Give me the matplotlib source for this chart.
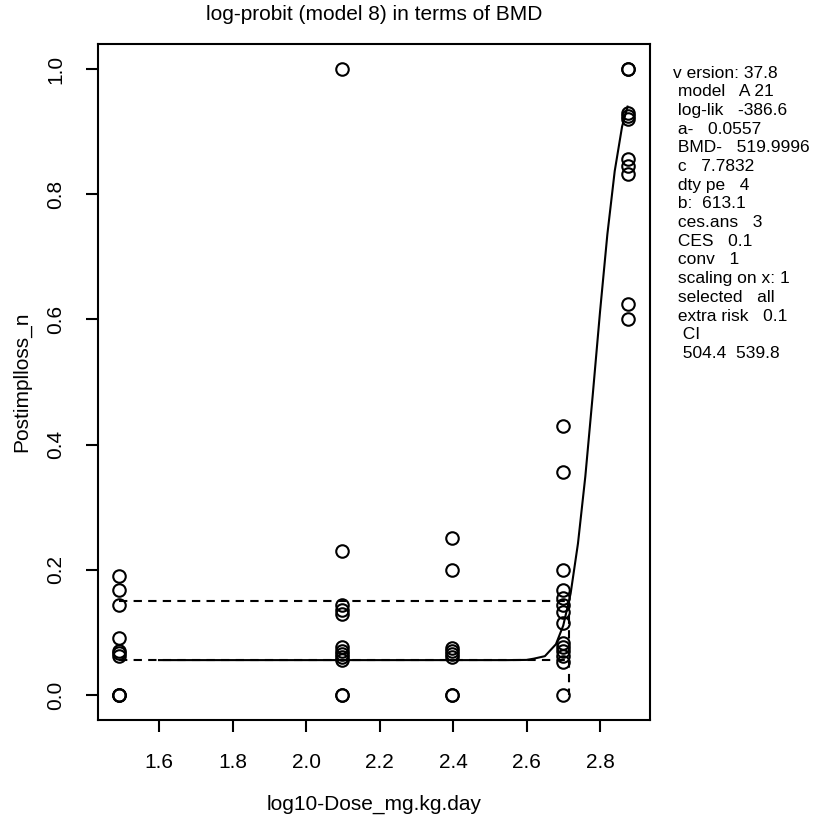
import numpy as np
import matplotlib.pyplot as plt

plt.rcParams['font.family'] = ['Liberation Sans', 'DejaVu Sans']

# observed responses per dose group (log10 dose)
dose_1 = 1.491
resp_1 = [0.19, 0.167, 0.143, 0.091, 0.071, 0.067, 0.063, 0, 0, 0]
dose_2 = 2.097
resp_2 = [1.0, 0.23, 0.143, 0.136, 0.129, 0.077, 0.071, 0.066, 0.061, 0.056, 0, 0]
dose_3 = 2.398
resp_3 = [0.25, 0.2, 0.075, 0.07, 0.065, 0.06, 0, 0]
dose_4 = 2.699
resp_4 = [0.429, 0.357, 0.2, 0.167, 0.155, 0.143, 0.133, 0.115, 0.083, 0.077,
          0.071, 0.063, 0.053, 0]
dose_5 = 2.875
resp_5 = [1.0, 1.0, 0.93, 0.925, 0.92, 0.857, 0.845, 0.833, 0.625, 0.6]

# fitted log-probit curve
curve_x = [1.60, 2.00, 2.40, 2.55, 2.60, 2.62, 2.65, 2.68, 2.70, 2.72, 2.74,
           2.76, 2.78, 2.80, 2.82, 2.84, 2.86, 2.875]
curve_y = [0.0557, 0.0557, 0.0557, 0.0557, 0.056, 0.058, 0.062, 0.081, 0.111,
           0.162, 0.242, 0.349, 0.478, 0.612, 0.736, 0.837, 0.908, 0.94]

a_level = 0.0557
ces_level = 0.15
bmd_log = 2.716

info_lines = ["v ersion: 37.8", " model   A 21", " log-lik   -386.6", " a-   0.0557",
              " BMD-   519.9996", " c   7.7832", " dty pe   4", " b:  613.1",
              " ces.ans   3", " CES   0.1", " conv   1", " scaling on x: 1",
              " selected   all", " extra risk   0.1", "  CI", "  504.4  539.8"]

W, H = 816, 819
fig = plt.figure(figsize=(W / 100, H / 100), dpi=100)
ax = fig.add_axes([97.7 / W, (H - 720) / H, (650 - 97.7) / W, (720 - 44) / H])

groups = [(dose_1, resp_1), (dose_2, resp_2), (dose_3, resp_3),
          (dose_4, resp_4), (dose_5, resp_5)]
for d, r in groups:
    ax.plot([d] * len(r), r, 'o', mfc='none', mec='black', ms=9, mew=1.5)

ax.plot(curve_x, curve_y, color='black', lw=1.5)

dash = (0, (4, 3))
ax.plot([dose_1, bmd_log], [a_level, a_level], color='black', lw=1.5, ls=dash)
ax.plot([dose_1, bmd_log], [ces_level, ces_level], color='black', lw=1.5, ls=dash)
ax.plot([bmd_log, bmd_log], [ces_level, 0], color='black', lw=1.5, ls=dash)

ax.set_xlim(1.4332, 2.936)
ax.set_ylim(-0.04, 1.04)
ax.set_xticks([1.6, 1.8, 2.0, 2.2, 2.4, 2.6, 2.8])
ax.set_yticks([0, 0.2, 0.4, 0.6, 0.8, 1.0])
ax.set_yticklabels(['0.0', '0.2', '0.4', '0.6', '0.8', '1.0'], rotation=90, va='center')
ax.tick_params(direction='out', length=8.6, width=1.5, labelsize=15, pad=15)
for s in ax.spines.values():
    s.set_linewidth(1.5)

ax.set_title('log-probit (model 8) in terms of BMD', fontsize=15, pad=17)
ax.set_xlabel('log10-Dose_mg.kg.day', fontsize=15)
ax.set_ylabel('Postimplloss_n', fontsize=15)
ax.xaxis.set_label_coords(0.5, -0.11)
ax.yaxis.set_label_coords(-0.12, 0.5)

for i, line in enumerate(info_lines):
    fig.text(673 / W, 1 - (73 + i * 18.7) / H, line, fontsize=12.5, va='center', ha='left')

fig.savefig('out.png', dpi=100)
